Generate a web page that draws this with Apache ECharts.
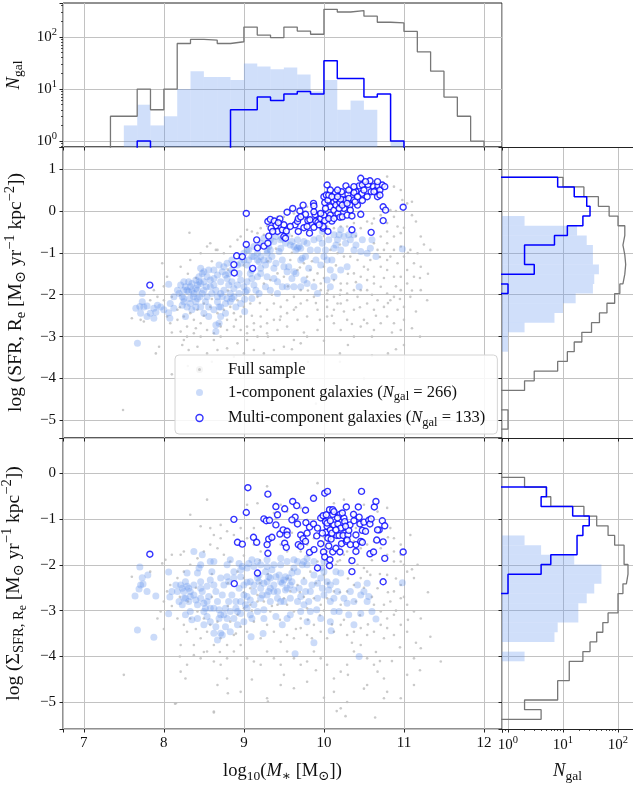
<!DOCTYPE html>
<html><head><meta charset="utf-8">
<script src="https://cdn.jsdelivr.net/npm/echarts@6/dist/echarts.min.js"></script>
<style>html,body{margin:0;padding:0;background:#fff;overflow:hidden}#c{width:633px;height:785px}</style>
</head><body><div id="c"></div>
<script>
// ---------------- data ----------------
const massTicks = [7, 8, 9, 10, 11, 12];
const sfrTicks = [-5, -4, -3, -2, -1, 0, 1];
const sigTicks = [-5, -4, -3, -2, -1, 0];
const countTicks = [1, 10, 100];

// top histogram (stellar mass), bin edges and counts
const massEdges = [7.333,7.5,7.667,7.833,8,8.167,8.333,8.5,8.667,8.833,9,9.167,9.333,9.5,9.667,9.833,10,10.167,10.333,10.5,10.667,10.833,11,11.167,11.333,11.5,11.667,11.833,12];
const fullMassHist  = [3,3,10,4,10,75,90,87,75,81,155,109,97,155,130,113,340,302,322,251,192,186,128,52,22,7,3,1];
const oneMassHist   = [0,2,5,2,3,10,22,17,17,15,31,27,24,26,19,9,15,4,6,4,0,1,0,0,0,0,0,0];
const multiMassHist = [0,0,1,0,0,0,0,0,0,4,4,7,6,8,9,8,35,16,16,7,8,1,0,0,0,0,0,0];

// right histogram, SFR (edges listed from top to bottom)
const sfrEdges = [0.804,0.573,0.341,0.110,-0.121,-0.353,-0.584,-0.815,-1.047,-1.278,-1.509,-1.741,-1.972,-2.203,-2.434,-2.666,-2.897,-3.128,-3.360,-3.591,-3.822,-4.054,-4.285,-4.516,-4.748,-4.979,-5.21];
const fullSfrHist  = [10,24,44,69,100,133,123,133,138,133,123,108,87,63,46,33,22,16,12,8,3,2,0,0,1,1];
const oneSfrHist   = [0,0,0,0,2,18,27,35,35,45,37,35,17,10,7,2,1,1,0,0,0,0,0,0,0,0];
const multiSfrHist = [8,16,27,31,23,12,7,2,2,3,0,1,0,0,0,0,0,0,0,0,0,0,0,0,0,0];

// right histogram, Sigma_SFR (edges listed from top to bottom)
const sigEdges = [-0.095,-0.306,-0.517,-0.728,-0.939,-1.150,-1.361,-1.572,-1.783,-1.994,-2.205,-2.416,-2.627,-2.838,-3.049,-3.260,-3.471,-3.682,-3.893,-4.104,-4.315,-4.526,-4.737,-4.948,-5.159,-5.370];
const fullSigHist  = [2,5,6,24,41,66,87,129,129,152,142,123,100,100,66,53,41,31,23,13,13,8,8,2,4];
const oneSigHist   = [0,0,0,0,0,0,2,4,16,50,50,37,27,19,19,8,7,0,2,0,0,0,0,0,0];
const multiSigHist = [0,5,4,15,30,23,18,18,6,4,1,1,0,0,0,0,0,0,0,0,0,0,0,0,0];

// scatter: [log M*, log SFR]
const multiSfr = [[7.825,-1.77],[9.03,-0.06],[8.91,-1.07],[8.98,-1.09],[8.875,-1.28],[8.88,-1.48],[9.11,-1.37],[9.03,-0.80],[9.16,-0.69],[9.17,-0.88],[9.25,-0.84],[9.30,-0.77],[9.31,-0.60],[9.30,-0.25],[9.33,-0.20],[9.38,-0.24],[9.45,-0.19],[9.40,-0.35],[9.34,-0.41],[9.42,-0.49],[9.48,-0.45],[9.50,-0.33],[9.53,-0.48],[9.50,-0.61],[9.52,-0.65],[9.54,-0.03],[9.61,0.06],[9.70,0.00],[9.74,0.14],[9.64,-0.33],[9.67,-0.25],[9.68,-0.18],[9.68,-0.49],[9.77,-0.08],[9.75,-0.40],[9.80,-0.23],[9.825,-0.21],[9.87,0.18],[9.875,0.12],[9.875,-0.39],[9.82,-0.53],[9.89,-0.09],[9.90,-0.24],[9.925,-0.27],[9.96,-0.18],[9.99,-0.41],[10.0,-0.10],[10.0,0.34],[10.01,0.20],[10.04,0.62],[10.03,0.38],[10.05,0.26],[10.01,-0.23],[9.99,-0.37],[10.05,-0.49],[10.08,0.10],[10.08,-0.10],[10.10,-0.24],[10.125,0.02],[10.125,0.22],[10.14,0.44],[10.15,0.28],[10.15,0.14],[10.175,-0.06],[10.20,0.20],[10.22,0.46],[10.20,-0.15],[10.23,-0.14],[10.25,0.26],[10.275,0.60],[10.27,0.26],[10.30,0.40],[10.31,0.30],[10.325,0.14],[10.33,0.02],[10.29,-0.10],[10.35,-0.12],[10.35,-0.45],[10.375,0.26],[10.40,0.46],[10.42,0.14],[10.44,0.60],[10.46,0.78],[10.475,0.42],[10.48,0.25],[10.46,-0.08],[10.48,0.62],[10.55,0.63],[10.575,0.72],[10.59,0.46],[10.62,0.58],[10.65,0.49],[10.675,0.60],[10.67,0.34],[10.70,0.50],[10.73,0.62],[10.76,0.58],[10.74,0.10],[10.77,0.02],[10.74,-0.23],[10.59,-0.51],[10.99,0.09],[10.21,0.28],[10.17,0.50],[10.375,0.44],[10.39,0.22],[10.25,0.06],[10.02,0.06],[10.06,0.38],[10.10,0.34],[10.19,0.06],[10.23,0.14],[10.29,0.18],[10.31,0.50],[10.42,0.34],[10.50,0.50],[10.54,0.34],[10.625,0.46],[10.70,0.38],[9.96,-0.06],[9.94,-0.33],[10.06,-0.18],[10.125,-0.18],[9.79,-0.37],[9.58,-0.37],[9.43,-0.28],[9.36,-0.49],[9.71,-0.14],[9.875,-0.02],[10.08,0.50],[10.17,0.34],[10.375,0.58],[10.52,0.70],[10.67,0.70]];

const oneSfr = [[7.65,-2.32],[7.70,-2.28],[7.73,-2.17],[7.73,-1.97],[7.79,-2.27],[7.67,-3.16],[7.875,-2.56],[7.90,-2.42],[8.06,-1.75],[8.06,-2.43],[8.075,-2.56],[8.23,-2.25],[8.21,-1.77],[8.27,-2.52],[8.25,-1.89],[8.29,-1.89],[8.31,-1.93],[8.33,-1.81],[8.35,-1.89],[8.375,-1.97],[8.40,-1.85],[8.42,-1.77],[8.44,-1.69],[8.46,-1.37],[8.48,-1.49],[8.50,-1.89],[8.52,-2.17],[8.54,-2.05],[8.56,-2.29],[8.29,-2.29],[8.35,-2.36],[8.40,-2.29],[8.42,-2.09],[8.45,-2.05],[8.48,-1.97],[8.53,-1.81],[8.58,-1.65],[8.60,-1.97],[8.625,-1.77],[8.65,-1.89],[8.67,-2.17],[8.69,-2.29],[8.65,-2.72],[8.69,-2.68],[8.65,-2.88],[8.71,-2.52],[8.77,-2.44],[8.73,-2.05],[8.75,-1.89],[8.71,-1.69],[8.73,-1.45],[8.79,-1.61],[8.81,-1.77],[8.85,-1.69],[8.83,-1.97],[8.875,-1.85],[8.92,-1.77],[8.94,-1.49],[8.96,-1.65],[9.0,-1.81],[9.02,-1.93],[9.01,-2.11],[9.01,-2.40],[9.04,-1.69],[9.08,-1.49],[9.10,-1.61],[9.125,-1.77],[9.15,-1.89],[9.04,-1.29],[9.06,-1.17],[9.125,-1.09],[9.17,-1.01],[9.19,-1.21],[9.21,-1.37],[9.25,-1.17],[9.27,-1.29],[9.29,-1.01],[9.31,-1.17],[9.33,-0.93],[9.35,-1.09],[9.375,-1.37],[9.375,-1.61],[9.40,-1.25],[9.44,-0.97],[9.46,-0.89],[9.48,-1.17],[9.50,-1.33],[9.48,-1.81],[9.54,-1.45],[9.56,-1.33],[9.60,-1.61],[9.625,-1.81],[9.65,-0.93],[9.67,-0.89],[9.69,-0.85],[9.71,-1.17],[9.73,-1.13],[9.77,-1.09],[9.79,-1.73],[9.81,-1.37],[9.83,-0.93],[9.875,-1.81],[9.90,-1.17],[9.92,-0.93],[9.96,-1.29],[10.0,-1.09],[10.02,-0.93],[10.04,-1.17],[10.08,-1.41],[10.10,-1.17],[10.125,-0.89],[10.15,-0.81],[10.08,-1.81],[10.17,-0.69],[10.21,-0.45],[10.27,-0.77],[10.29,-1.33],[10.375,-0.93],[10.44,-1.81],[10.46,-0.97],[10.48,-0.69],[10.54,-1.01],[10.58,-0.89],[10.60,-0.69],[10.65,-1.09],[10.98,-0.91],[10.31,-0.57],[10.375,-0.57],[9.98,-0.49],[10.21,-0.93],[9.52,-0.77],[9.58,-0.81],[9.625,-0.85],[9.71,-0.89],[9.75,-0.73],[9.46,-0.69],[9.375,-0.73],[9.31,-0.85],[9.29,-0.93],[9.21,-1.09],[9.17,-1.17],[9.10,-1.09],[9.06,-0.93],[9.0,-1.17],[8.96,-1.25],[8.92,-1.29],[8.85,-1.41],[8.81,-1.49],[8.77,-1.53],[8.67,-1.53],[8.625,-1.61],[8.58,-1.81],[8.54,-1.57],[8.50,-1.69],[8.46,-1.73],[8.42,-1.89],[8.37,-2.05],[8.325,-2.09],[8.25,-2.17],[8.27,-1.81],[8.31,-1.69],[8.35,-1.73],[8.40,-1.65],[8.44,-1.57],[8.50,-1.45],[8.56,-1.41],[8.625,-1.41],[8.69,-1.29],[8.75,-1.33],[8.79,-1.25],[8.85,-1.17],[8.96,-1.09],[9.0,-1.01],[9.04,-0.93],[9.125,-0.85],[9.21,-0.77],[9.25,-0.65],[9.33,-0.69],[9.40,-0.61],[9.48,-0.65],[9.54,-0.57],[9.60,-0.73],[9.67,-0.69],[9.79,-0.77],[9.875,-0.69],[9.94,-0.65],[9.98,-0.77],[10.06,-0.69],[10.125,-0.57],[10.19,-0.57],[10.25,-0.61],[10.33,-0.69],[10.40,-0.81],[9.71,-1.81],[9.75,-1.65],[9.65,-1.49],[9.54,-1.81],[9.42,-1.69],[9.29,-1.57],[9.21,-1.49],[9.17,-1.57],[9.10,-1.41],[9.04,-1.89],[8.94,-1.97],[8.875,-2.05],[8.83,-2.17],[8.77,-2.21],[8.71,-2.29],[8.625,-2.36],[8.56,-2.52],[8.50,-2.44],[8.46,-2.29],[8.40,-2.17],[8.33,-2.21],[8.25,-2.09],[8.23,-2.05],[8.19,-1.97],[8.25,-1.69],[8.17,-1.89],[8.125,-2.05],[8.08,-2.21],[8.125,-2.32],[8.0,-2.36],[7.96,-2.29],[7.92,-2.25],[7.875,-2.32],[7.83,-2.44],[7.79,-2.52],[7.75,-2.29],[7.71,-2.44],[8.67,-2.05],[8.71,-1.97],[8.79,-2.09],[8.85,-2.09],[8.90,-2.29],[8.96,-2.21],[9.10,-2.09],[9.19,-1.97],[9.27,-1.81],[9.33,-1.89],[9.42,-1.97],[9.625,-1.45],[9.92,-1.97],[10.04,-1.65],[10.125,-1.57],[10.21,-1.41]];

const fullSfr = [[8.32,-0.52],[8.54,-0.85],[8.65,-0.93],[9.04,-0.45],[9.10,-0.49],[9.21,-0.41],[9.29,-0.36],[9.42,-0.14],[9.5,-0.14],[9.625,-0.06],[9.71,0.06],[9.79,0.10],[9.875,0.06],[10.125,0.34],[10.21,0.42],[10.375,0.58],[10.54,0.74],[10.625,0.70],[10.79,0.82],[10.875,0.58],[10.96,0.50],[10.98,0.26],[11.04,0.18],[11.10,0.22],[11.15,-0.25],[11.10,-0.10],[10.875,-0.14],[10.83,0.02],[10.92,-0.37],[10.96,-0.53],[10.79,-0.49],[10.71,-0.61],[10.625,-0.77],[10.75,-0.93],[10.83,-1.09],[10.92,-1.25],[11.0,-1.09],[11.08,-0.93],[11.17,-1.01],[11.33,-0.93],[11.21,-1.33],[11.125,-1.57],[11.04,-1.73],[10.96,-1.89],[10.875,-2.05],[10.79,-1.97],[10.71,-1.81],[10.625,-1.73],[10.54,-1.65],[10.46,-1.57],[10.375,-1.49],[10.29,-1.73],[10.21,-1.89],[10.125,-2.05],[10.04,-1.97],[9.96,-1.89],[9.875,-1.65],[9.79,-1.57],[9.71,-1.89],[9.625,-2.05],[9.54,-2.13],[9.46,-2.29],[9.375,-2.21],[9.29,-2.36],[9.21,-2.52],[9.125,-2.68],[9.04,-2.76],[8.96,-2.52],[8.875,-2.44],[8.79,-2.60],[8.71,-2.76],[8.625,-2.92],[8.54,-2.84],[8.46,-2.68],[8.375,-2.60],[8.29,-2.76],[8.21,-2.88],[8.25,-3.08],[8.23,-3.20],[8.31,-3.32],[8.42,-3.24],[8.54,-3.40],[8.67,-3.32],[8.79,-3.28],[8.92,-3.16],[9.04,-3.08],[9.17,-3.00],[9.29,-2.92],[9.42,-2.84],[9.54,-2.76],[9.67,-2.60],[9.79,-2.52],[9.92,-2.36],[10.04,-2.29],[10.17,-2.21],[10.29,-2.13],[10.42,-2.05],[10.54,-2.21],[10.67,-2.13],[10.75,-2.29],[10.83,-2.13],[10.92,-2.36],[11.0,-2.29],[11.08,-2.05],[11.21,-1.89],[11.29,-2.13],[10.125,-2.68],[10.21,-2.84],[10.29,-2.60],[10.375,-3.00],[10.46,-2.76],[10.54,-2.68],[10.625,-2.84],[10.71,-2.68],[10.79,-2.52],[10.875,-2.68],[10.96,-2.84],[9.92,-2.84],[9.79,-3.00],[9.71,-3.16],[9.625,-3.08],[9.5,-3.24],[9.375,-3.32],[9.25,-3.40],[9.125,-3.32],[9.0,-3.40],[8.875,-3.48],[7.90,-3.40],[7.94,-3.24],[7.60,-2.56],[7.75,-2.64],[7.98,-1.25],[7.875,-1.89],[8.04,-1.57],[8.10,-2.05],[8.17,-2.36],[8.21,-1.33],[8.33,-1.17],[8.46,-1.01],[8.58,-0.77],[8.67,-0.93],[8.75,-1.01],[8.83,-0.85],[8.92,-0.69],[8.96,-0.61],[9.17,-0.53],[9.25,-0.57],[9.33,-0.53],[9.375,-0.37],[9.46,-0.45],[9.54,-0.33],[9.67,-0.25],[9.75,-0.18],[9.875,-0.21],[9.96,-0.25],[10.04,-0.37],[10.125,-0.41],[10.21,-0.37],[10.29,-0.37],[10.375,-0.29],[10.46,-0.41],[10.54,-0.25],[10.625,-0.18],[10.71,-0.10],[10.79,-0.29],[10.875,-0.61],[10.79,-0.77],[10.67,-0.93],[10.58,-1.17],[10.5,-1.33],[10.42,-1.17],[10.33,-1.09],[10.25,-1.09],[10.17,-1.01],[10.08,-0.93],[10.0,-1.33],[9.92,-1.49],[9.83,-1.41],[9.75,-1.25],[9.67,-1.41],[9.58,-1.17],[9.5,-1.57],[9.42,-1.49],[9.33,-1.65],[9.25,-1.73],[9.17,-2.05],[9.08,-2.21],[9.0,-2.29],[8.92,-2.13],[8.83,-2.29],[8.75,-2.36],[8.67,-2.44],[8.58,-2.29],[8.5,-2.21],[8.42,-2.36],[8.33,-2.44],[8.25,-2.52],[8.17,-2.60],[8.08,-2.68],[8.04,-2.52],[8.0,-2.13],[7.92,-2.05],[7.83,-2.13],[7.71,-2.60],[10.125,-1.65],[10.21,-1.73],[9.96,-1.73],[10.04,-2.52],[10.375,-2.36],[10.625,-2.36],[10.71,-1.33],[10.875,-1.57],[10.96,-1.57],[11.04,-1.41],[11.125,-1.25],[11.21,-0.61],[10.96,-0.85],[10.875,-0.93],[10.79,-1.17],[10.79,-1.41],[10.625,-1.57],[10.54,-1.89],[10.46,-1.89],[10.375,-1.89],[10.29,-1.97],[10.21,-2.21],[10.125,-2.36],[10.04,-2.13],[9.875,-2.05],[9.79,-2.13],[9.71,-2.21],[9.625,-2.36],[9.54,-2.44],[9.46,-2.52],[9.375,-2.60],[9.29,-2.68],[9.21,-2.76],[9.125,-2.84],[9.04,-2.92],[8.96,-2.84],[8.875,-2.76],[8.79,-2.84],[8.71,-3.00],[8.625,-3.08],[8.46,-3.00],[8.375,-2.92],[8.29,-3.00],[7.49,-4.75],[8.10,-3.90],[8.30,-3.70],[8.60,-3.60],[9.00,-3.65],[9.40,-3.60],[9.80,-3.60],[10.20,-3.60],[10.60,-3.45],[11.00,-3.20],[11.20,-3.00],[10.50,-4.00],[9.90,-4.60],[8.90,-4.30],
  [9.6,-1.0],[9.7,-1.35],[9.8,-1.9],[9.9,-2.2],[10.0,-1.6],[10.05,-1.9],[10.1,-2.5],[10.15,-1.3],[10.2,-2.0],[10.25,-2.4],[10.3,-1.5],[10.35,-2.7],[10.4,-1.7],[10.45,-2.3],[10.5,-2.6],[10.55,-1.4],[10.6,-2.0],[10.65,-2.5],[10.7,-1.1],[10.75,-1.6],[10.8,-2.2],[10.85,-2.9],[10.9,-1.8],[10.95,-2.1],[11.0,-2.6],[11.05,-1.0],[11.1,-1.9],[11.15,-2.4],[11.2,-1.6],[11.25,-0.8],[9.3,-1.2],[9.35,-2.0],[9.45,-2.6],[9.55,-1.8],[9.65,-2.3],[9.75,-2.9],[9.85,-1.2],[9.95,-2.6],[10.0,-3.1],[10.3,-3.2],[10.6,-3.0],[10.9,-3.3],[9.2,-2.2],[9.1,-2.5],[9.0,-2.0],[8.9,-2.6],[8.8,-1.9],[8.7,-2.7],[8.6,-2.1],[8.5,-2.5],[8.4,-2.8],[8.3,-1.5],[8.2,-2.3],[8.1,-2.9],[8.0,-1.8],[10.1,-0.2],[10.3,0.1],[10.5,0.3],[10.7,0.4],[10.9,0.0],[11.0,-0.4],[10.6,-0.3],[10.4,-0.6],[10.2,-0.8],[10.0,-0.6],[9.8,-0.5],[9.6,-0.6],[9.4,-0.9],[9.2,-0.9],[9.0,-1.3],[8.8,-1.4],[8.6,-1.2],[8.4,-1.6],[8.2,-2.0],[11.1,-2.8],[11.3,-1.5],[10.8,-3.4],[10.2,-3.4],[9.6,-3.3],[9.3,-3.0]];

// scatter: [log M*, log Sigma_SFR]
const multiSig = [[7.825,-1.77],[8.875,-1.01],[8.88,-2.41],[8.92,-1.51],[8.98,-1.55],[9.03,-0.86],[9.05,-0.32],[9.12,-1.40],[9.16,-1.51],[9.17,-2.18],[9.25,-1.00],[9.28,-1.04],[9.30,-0.46],[9.30,-1.75],[9.31,-1.44],[9.32,-1.03],[9.35,-1.40],[9.40,-0.73],[9.40,-1.13],[9.42,-0.91],[9.45,-1.33],[9.49,-1.24],[9.51,-0.78],[9.51,-1.53],[9.53,-1.62],[9.54,-1.27],[9.61,-0.62],[9.64,-0.96],[9.66,-0.71],[9.67,-1.11],[9.68,-1.56],[9.71,-1.35],[9.71,-1.60],[9.74,-1.43],[9.77,-0.81],[9.775,-1.08],[9.82,-1.18],[9.82,-1.73],[9.87,-1.11],[9.87,-0.55],[9.875,-1.67],[9.92,-2.07],[9.91,-1.37],[9.96,-1.54],[9.96,-0.98],[9.99,-0.93],[9.995,-1.72],[10.01,-1.83],[10.01,-0.44],[10.02,-1.06],[10.025,-1.29],[10.03,-0.91],[10.04,-1.16],[10.045,-0.40],[10.05,-1.42],[10.06,-1.59],[10.07,-0.80],[10.07,-2.02],[10.075,-1.89],[10.08,-1.24],[10.09,-1.44],[10.11,-0.90],[10.11,-0.80],[10.11,-1.72],[10.125,-1.13],[10.15,-1.64],[10.16,-1.36],[10.175,-1.11],[10.19,-1.36],[10.20,-0.90],[10.20,-1.72],[10.22,-1.54],[10.23,-1.20],[10.24,-1.36],[10.25,-0.98],[10.26,-1.06],[10.28,-0.74],[10.28,-1.49],[10.30,-1.35],[10.31,-1.25],[10.325,-1.13],[10.35,-2.15],[10.35,-1.91],[10.37,-0.90],[10.375,-1.04],[10.40,-1.56],[10.40,-1.71],[10.43,-0.74],[10.44,-0.96],[10.45,-1.11],[10.46,-1.49],[10.47,-0.40],[10.48,-1.25],[10.48,-1.51],[10.50,-1.07],[10.56,-1.03],[10.575,-1.11],[10.575,-1.76],[10.59,-1.00],[10.62,-1.72],[10.63,-0.74],[10.65,-0.62],[10.66,-1.46],[10.69,-1.24],[10.73,-1.04],[10.74,-1.50],[10.74,-2.37],[10.76,-1.15],[10.76,-1.86],[10.99,-1.72],[10.04,-1.09],[10.08,-1.04],[10.125,-0.84],[10.10,-1.31],[10.21,-1.20],[10.29,-1.46],[10.40,-1.35],[10.17,-0.98],[10.23,-0.87],[9.60,-1.02],[9.77,-1.49],[9.54,-1.35],[9.92,-1.20],[9.98,-1.31],[10.15,-1.24],[10.27,-1.16],[10.33,-1.56],[10.52,-1.27],[10.67,-1.24],[9.29,-1.56],[9.79,-1.31]];

const oneSig = [[7.64,-2.68],[7.67,-3.42],[7.70,-2.05],[7.69,-2.53],[7.73,-2.28],[7.74,-2.42],[7.80,-2.22],[7.875,-3.58],[7.90,-2.68],[8.06,-2.16],[8.06,-3.07],[8.075,-2.70],[8.21,-2.44],[8.23,-2.87],[8.25,-2.58],[8.27,-2.37],[8.29,-2.18],[8.31,-2.51],[8.33,-2.69],[8.35,-3.20],[8.375,-1.71],[8.40,-2.77],[8.42,-2.18],[8.44,-2.07],[8.46,-2.37],[8.48,-1.78],[8.48,-2.58],[8.50,-2.84],[8.52,-2.95],[8.54,-3.13],[8.56,-2.69],[8.58,-2.33],[8.60,-2.15],[8.625,-1.93],[8.65,-2.58],[8.67,-2.80],[8.69,-2.98],[8.625,-3.49],[8.67,-3.64],[8.71,-3.49],[8.77,-3.35],[8.77,-2.95],[8.75,-2.44],[8.81,-2.37],[8.83,-1.89],[8.85,-2.66],[8.875,-2.15],[8.90,-2.80],[8.92,-3.02],[8.94,-2.51],[8.96,-2.26],[8.98,-2.04],[9.0,-2.66],[9.02,-2.87],[9.04,-2.38],[9.06,-1.97],[9.08,-2.77],[9.10,-3.17],[9.09,-3.57],[9.125,-2.44],[9.17,-1.93],[9.19,-2.22],[9.21,-2.51],[9.23,-2.66],[9.25,-2.98],[9.24,-3.50],[9.27,-2.15],[9.29,-2.37],[9.31,-2.58],[9.33,-2.29],[9.35,-2.11],[9.375,-2.44],[9.40,-3.13],[9.42,-2.58],[9.44,-2.22],[9.46,-2.80],[9.48,-3.31],[9.5,-2.33],[9.52,-2.55],[9.54,-3.17],[9.56,-2.29],[9.58,-2.44],[9.60,-2.18],[9.625,-2.55],[9.64,-3.94],[9.67,-2.15],[9.71,-2.69],[9.73,-2.00],[9.75,-2.37],[9.79,-3.24],[9.81,-2.80],[9.83,-2.58],[9.875,-3.70],[9.875,-2.22],[9.91,-2.98],[9.96,-2.29],[10.0,-2.15],[10.04,-2.37],[10.06,-2.55],[10.08,-3.24],[10.09,-3.44],[10.125,-2.73],[10.15,-2.37],[10.21,-2.18],[10.29,-2.84],[10.375,-2.80],[10.44,-4.00],[10.46,-3.06],[10.5,-2.58],[10.54,-2.40],[10.56,-2.69],[10.60,-3.02],[10.65,-3.18],[10.98,-2.39],[9.54,-1.93],[9.67,-1.93],[9.75,-1.93],[9.46,-2.00],[9.375,-2.00],[9.29,-2.04],[9.21,-2.00],[9.125,-2.04],[9.04,-2.07],[8.96,-2.11],[8.875,-2.29],[8.79,-2.26],[8.71,-2.29],[8.625,-2.44],[8.54,-2.47],[8.46,-2.51],[8.375,-2.44],[8.29,-2.47],[8.23,-2.51],[8.25,-2.73],[8.31,-2.80],[8.42,-2.87],[8.50,-3.02],[8.58,-2.95],[8.69,-3.17],[8.75,-3.09],[8.83,-3.02],[8.90,-2.95],[8.96,-2.80],[9.04,-2.69],[9.125,-2.58],[9.19,-2.37],[9.25,-2.40],[9.31,-2.26],[9.40,-2.26],[9.48,-2.40],[9.54,-2.51],[9.60,-2.37],[9.69,-2.51],[9.77,-2.58],[9.85,-2.44],[9.92,-2.40],[9.98,-2.51],[10.08,-2.44],[10.17,-2.58],[10.25,-2.73],[10.33,-2.58],[10.42,-2.44],[10.15,-2.15],[9.96,-2.07],[9.79,-2.00],[9.625,-2.07],[9.52,-2.26],[9.46,-2.37],[9.375,-2.58],[9.29,-2.66],[9.21,-2.73],[9.125,-2.87],[9.04,-2.95],[8.96,-3.06],[8.875,-3.17],[8.79,-3.17],[8.71,-3.09],[8.625,-2.95],[8.54,-2.80],[8.46,-2.73],[8.375,-2.66],[8.33,-2.58],[8.27,-2.73],[8.19,-2.80],[8.17,-2.58],[8.15,-2.44],[8.10,-2.58],[7.79,-2.58],[7.71,-2.44],[8.73,-2.66],[8.81,-2.80],[9.0,-2.44],[9.08,-2.37],[9.17,-2.29],[9.33,-2.51],[9.42,-2.73],[9.5,-2.80],[9.58,-2.73],[9.67,-2.80],[9.75,-2.87],[9.83,-3.02],[9.92,-2.73],[10.0,-2.66],[10.08,-2.80],[10.19,-3.02],[10.31,-3.09],[10.46,-2.66],[10.54,-2.80],[10.375,-3.31],[10.125,-3.02],[9.96,-3.17],[9.71,-3.02],[9.58,-3.09],[9.33,-2.80],[9.25,-3.17],[9.17,-3.02],[9.08,-3.09],[9.0,-3.24],[8.92,-3.31],[8.83,-3.46],[8.73,-3.53],[8.65,-3.35],[8.58,-3.24],[8.50,-3.31],[8.42,-3.17],[8.33,-3.02],[8.27,-3.09],[8.46,-2.00],[8.58,-1.93],[8.79,-2.00],[8.94,-1.97],[9.10,-1.89],[9.29,-1.89],[9.46,-1.86],[9.625,-1.89],[9.79,-1.86],[9.875,-1.93],[10.0,-1.93]];

const fullSig = [[8.33,-0.91],[8.54,-0.58],[8.71,-1.13],[8.46,-1.16],[8.25,-1.71],[8.10,-1.78],[8.21,-1.78],[8.02,-1.89],[7.98,-1.97],[7.83,-2.15],[7.60,-2.26],[7.50,-4.40],[9.04,-0.69],[9.17,-0.66],[9.29,-0.29],[9.375,-0.87],[9.46,-0.69],[9.54,-0.84],[9.71,-0.76],[9.79,-1.02],[9.875,-0.55],[9.92,-0.22],[10.125,-0.66],[10.25,-0.58],[10.375,-0.84],[10.5,-0.69],[10.58,-0.95],[10.67,-0.84],[10.79,-0.76],[10.83,-1.20],[10.875,-1.42],[10.96,-1.56],[11.08,-1.35],[10.96,-1.93],[11.04,-2.15],[11.125,-2.29],[11.17,-2.00],[10.875,-1.93],[10.79,-2.22],[10.875,-2.58],[10.96,-2.73],[11.04,-2.87],[11.125,-3.02],[11.21,-3.17],[11.33,-3.57],[11.46,-4.11],[11.21,-3.82],[11.125,-4.04],[11.04,-4.40],[11.125,-4.62],[10.96,-4.91],[10.79,-4.77],[10.75,-4.48],[10.67,-4.33],[10.625,-4.18],[10.54,-4.04],[10.46,-3.75],[10.375,-3.89],[10.29,-4.18],[10.21,-4.33],[10.125,-4.48],[10.04,-4.18],[9.96,-4.04],[9.875,-3.89],[9.79,-4.11],[9.71,-4.18],[9.625,-4.04],[9.54,-3.89],[9.46,-4.18],[9.375,-4.04],[9.29,-3.89],[9.21,-4.18],[9.125,-4.11],[9.04,-4.04],[8.96,-3.75],[8.875,-3.89],[8.79,-4.04],[8.71,-4.18],[8.625,-4.11],[8.54,-3.89],[8.46,-4.04],[8.375,-3.97],[8.29,-4.18],[8.27,-4.48],[8.21,-4.33],[8.67,-4.62],[8.79,-4.48],[8.96,-4.77],[9.29,-4.91],[9.46,-4.62],[9.625,-4.69],[9.79,-4.55],[10.125,-4.77],[10.29,-4.99],[10.54,-4.62],[10.75,-4.91],[10.21,-5.13],[8.625,-5.20],[8.15,-5.02],[8.96,-3.35],[9.04,-3.46],[9.125,-3.24],[9.21,-3.60],[9.29,-3.31],[9.375,-3.46],[9.46,-3.68],[9.54,-3.53],[9.625,-3.60],[9.71,-3.38],[9.79,-3.53],[9.875,-3.31],[9.96,-3.46],[10.04,-3.60],[10.125,-3.46],[10.21,-3.31],[10.29,-3.53],[10.375,-3.46],[10.46,-3.38],[10.54,-3.53],[10.625,-3.46],[10.71,-3.31],[10.79,-3.38],[10.875,-3.53],[10.96,-3.31],[11.04,-3.46],[10.79,-3.17],[10.875,-3.09],[10.71,-3.02],[10.625,-2.87],[10.75,-2.87],[10.83,-2.80],[10.96,-2.44],[10.67,-2.51],[10.58,-2.22],[10.5,-2.07],[10.42,-2.00],[10.33,-1.86],[10.25,-1.78],[10.17,-1.93],[10.08,-2.07],[10.0,-2.22],[9.92,-1.93],[9.83,-2.15],[9.75,-2.29],[9.67,-2.44],[9.58,-2.58],[9.5,-2.73],[9.42,-2.87],[9.33,-3.02],[9.25,-2.80],[9.17,-2.66],[9.08,-2.51],[9.0,-2.29],[8.92,-2.15],[8.83,-1.93],[8.75,-1.78],[8.67,-1.64],[8.58,-1.56],[8.50,-1.71],[8.42,-1.86],[8.33,-2.00],[8.25,-2.15],[8.17,-2.29],[8.08,-2.44],[8.04,-2.58],[8.0,-2.80],[7.96,-3.02],[7.92,-3.17],[8.29,-3.46],[8.375,-3.75],[8.46,-3.60],[8.54,-3.46],[8.625,-3.75],[8.71,-3.60],[8.79,-3.75],[8.875,-3.53],[8.21,-3.75],[8.17,-3.17],[8.25,-3.31],[8.33,-3.17],[8.42,-3.02],[8.50,-3.17],[8.58,-3.31],[8.67,-3.24],[8.83,-3.24],[8.92,-3.09],[9.0,-2.95],[9.08,-2.87],[9.17,-2.80],[9.71,-1.71],[9.79,-1.56],[9.875,-1.42],[9.96,-1.56],[10.04,-1.71],[10.21,-1.56],[10.29,-1.71],[10.375,-1.49],[10.46,-1.64],[10.54,-1.56],[10.625,-1.49],[10.71,-1.64],[10.79,-1.78],[10.875,-1.71],[10.96,-1.78],[9.54,-1.71],[9.46,-1.56],[9.375,-1.42],[9.29,-1.56],[9.21,-1.71],[9.125,-1.56],[9.04,-1.42],[8.96,-1.56],[8.875,-1.35],[8.79,-1.27],[8.71,-1.42],[8.625,-1.35],[8.58,-1.20],[8.96,-1.20],[9.125,-1.20],[10.21,-2.87],[10.125,-2.58],[10.04,-2.73],[9.96,-2.87],[9.875,-2.73],[9.79,-2.95],[9.71,-3.17],[9.625,-3.02],[9.54,-2.87],[10.29,-2.58],[10.375,-2.44],[10.46,-2.29],[10.54,-2.15],[8.14,-5.03],[8.625,-5.22],[9.30,-4.98],[10.16,-5.19],[10.27,-5.30],[10.64,-5.33],
  [9.6,-2.1],[9.7,-2.6],[9.8,-3.2],[9.9,-2.4],[10.0,-3.0],[10.05,-2.4],[10.1,-3.3],[10.15,-2.0],[10.2,-2.6],[10.25,-3.2],[10.3,-2.3],[10.35,-3.7],[10.4,-2.8],[10.45,-3.1],[10.5,-2.5],[10.55,-3.3],[10.6,-2.7],[10.65,-3.9],[10.7,-2.2],[10.75,-3.6],[10.8,-2.6],[10.85,-4.1],[10.9,-3.0],[10.95,-3.8],[11.0,-2.7],[11.05,-3.2],[11.1,-2.1],[11.15,-3.7],[9.3,-2.2],[9.35,-2.9],[9.45,-3.2],[9.55,-2.3],[9.65,-3.4],[9.75,-2.7],[9.85,-3.6],[9.95,-3.1],[9.2,-2.4],[9.1,-3.0],[9.0,-2.6],[8.9,-3.5],[8.8,-2.9],[8.7,-3.9],[8.6,-2.7],[8.5,-3.9],[8.4,-3.4],[8.3,-2.8],[8.2,-4.0],[8.1,-2.9],[8.0,-3.4],[9.4,-1.0],[9.6,-1.3],[9.8,-1.8],[10.0,-1.4],[10.2,-1.9],[10.4,-1.2],[10.6,-1.9],[10.8,-1.4],[11.0,-2.0],[9.2,-1.9],[9.0,-1.8],[8.8,-2.4],[8.6,-2.2],[8.4,-2.5],[8.2,-2.7],[9.5,-4.4],[9.9,-4.3],[10.3,-4.4],[10.7,-4.1],[9.1,-4.5],[8.8,-4.8],[10.0,-4.9],[10.5,-4.7],[11.2,-4.3],[11.3,-2.6],[10.9,-2.3]];

// ---------------- styling ----------------
const FONT = '"Liberation Serif","DejaVu Serif",serif';
const INK = '#111';
const GRIDC = '#c2c2c2';
const SPINE = '#222';
const BLUE = '#0000ff';
const GREYL = '#777777';
const FILL = 'rgba(100,149,237,0.3)';
const FLOOR = 0.1;   // value below the log axes minimum (zero counts)

function richSet(main, sub) {
  return {
    t: {fontFamily: FONT, fontSize: main, color: INK},
    i: {fontFamily: FONT, fontSize: main, color: INK, fontStyle: 'italic'},
    s: {fontFamily: FONT, fontSize: sub, color: INK, padding: [Math.round(main * 0.55), 0, 0, 0]},
    ss: {fontFamily: FONT, fontSize: sub * 0.8, color: INK, padding: [Math.round(main * 0.95), 0, 0, 0]},
    u: {fontFamily: FONT, fontSize: sub, color: INK, padding: [0, 0, Math.round(main * 0.6), 0]},
    b: {fontFamily: FONT, fontSize: main, color: INK},
    gap: {width: 20}
  };
}
const richTick = richSet(15, 10.5);
const richTitle = richSet(18.5, 13.5);
const richTitleY = richSet(19.5, 14.5);
const richLegend = richSet(16.5, 12.5);

function fmtNum(v) {
  if (Math.abs(v - Math.round(v)) > 1e-6) return '';
  v = Math.round(v);
  return v < 0 ? '\u2212' + (-v) : String(v);
}
function fmtPow(v) {
  const e = Math.log10(v);
  if (Math.abs(e - Math.round(e)) > 1e-6) return '';
  return '{b|10}{u|' + Math.round(e) + '}';
}
function onlyIn(list) { return v => list.some(t => Math.abs(t - v) < 1e-6); }
const spineLine = {show: true, onZero: false, lineStyle: {color: SPINE, width: 1}};

function linAxis(gi, min, max, ticks, showLabel, extra) {
  return Object.assign({
    type: 'value', gridIndex: gi, min: min, max: max, minInterval: 1, maxInterval: 1,
    axisLine: {show: false, onZero: false},
    axisTick: {show: true, length: 3.5, lineStyle: {color: SPINE, width: 1}},
    axisLabel: {show: showLabel, margin: 7, formatter: v => (onlyIn(ticks)(v) ? fmtNum(v) : ''),
                fontFamily: FONT, fontSize: 15, color: INK},
    splitLine: {show: true, lineStyle: {color: GRIDC, width: 1}}
  }, extra || {});
}
function logAxis(gi, min, max, showLabel, extra) {
  return Object.assign({
    type: 'log', logBase: 10, gridIndex: gi, min: min, max: max,
    axisLine: {show: false, onZero: false},
    axisTick: {show: true, length: 3.5, lineStyle: {color: SPINE, width: 1}},
    axisLabel: {show: showLabel, margin: 6, formatter: fmtPow, rich: richTick, fontFamily: FONT, fontSize: 15, color: INK},
    splitLine: {show: true, showMinLine: false, showMaxLine: false, lineStyle: {color: GRIDC, width: 1}}
  }, extra || {});
}
function minorLogValues(lo, hi) {
  const out = [];
  for (let d = -1; d <= 3; d++) for (let m = 2; m <= 9; m++) {
    const v = m * Math.pow(10, d);
    if (v > lo && v < hi) out.push(Math.log10(v));
  }
  return out;
}
function minorAxis(gi, lo, hi) {
  return {
    type: 'value', gridIndex: gi, min: Math.log10(lo), max: Math.log10(hi),
    axisLine: {show: false, onZero: false}, axisLabel: {show: false}, splitLine: {show: false},
    axisTick: {show: true, length: 2, lineStyle: {color: SPINE, width: 0.8}, customValues: minorLogValues(lo, hi)}
  };
}
function hiddenAxis(gi) {
  return {type: 'value', gridIndex: gi, min: 0, max: 1, show: false};
}
function bareAxis(gi, extra) {   // an axis that only shows its line and/or its name
  return Object.assign({type: 'value', gridIndex: gi, min: 0, max: 1, axisLine: {show: false, onZero: false},
    axisTick: {show: false}, axisLabel: {show: false}, splitLine: {show: false}}, extra || {});
}
function titled(name, gap, rich, size) {
  return {name: name, nameLocation: 'middle', nameGap: gap,
          nameTextStyle: {rich: rich || richTitle, fontFamily: FONT, fontSize: size || 18.5, color: INK}};
}

// step outline built from bin edges and counts
function stepLine(edges, counts, xi, yi, horiz, color, width) {
  const pts = [];
  const c = counts.map(v => (v > 0 ? v : FLOOR));
  const P = (e, n) => (horiz ? [n, e] : [e, n]);
  pts.push(P(edges[0], FLOOR));
  for (let k = 0; k < c.length; k++) { pts.push(P(edges[k], c[k])); pts.push(P(edges[k + 1], c[k])); }
  pts.push(P(edges[edges.length - 1], FLOOR));
  return {type: 'line', xAxisIndex: xi, yAxisIndex: yi, data: pts, symbol: 'none', showSymbol: false,
          silent: true, clip: true, z: 3, lineStyle: {color: color, width: width}, emphasis: {disabled: true},
          animation: false};
}
// filled bars built from bin edges and counts
function fillBars(edges, counts, xi, yi, horiz) {
  const data = [];
  for (let k = 0; k < counts.length; k++) if (counts[k] > 0) data.push([edges[k], edges[k + 1], counts[k]]);
  return {
    type: 'custom', xAxisIndex: xi, yAxisIndex: yi, data: data, silent: true, z: 1, animation: false,
    encode: horiz ? {x: 2, y: [0, 1]} : {x: [0, 1], y: 2},
    renderItem: function (params, api) {
      const a = api.value(0), b = api.value(1), n = api.value(2);
      let p, q;
      if (!horiz) { p = api.coord([a, n]); q = api.coord([b, FLOOR]); }
      else { p = api.coord([FLOOR, a]); q = api.coord([n, b]); }
      const cs = params.coordSys;
      const shape = echarts.graphic.clipRectByRect(
        {x: Math.min(p[0], q[0]), y: Math.min(p[1], q[1]), width: Math.abs(q[0] - p[0]), height: Math.abs(q[1] - p[1])},
        {x: cs.x, y: cs.y, width: cs.width, height: cs.height});
      return shape && {type: 'rect', shape: shape, style: {fill: FILL}};
    }
  };
}
function scatter(name, data, xi, yi, kind) {
  const base = {type: 'scatter', name: name, data: data, xAxisIndex: xi, yAxisIndex: yi, silent: true,
                animation: false, emphasis: {disabled: true}, clip: true};
  if (kind === 'full') return Object.assign(base, {symbolSize: 2.6, z: 2, itemStyle: {color: '#bdbdbd'}});
  if (kind === 'one') return Object.assign(base, {symbolSize: 7, z: 3, itemStyle: {color: 'rgba(100,149,237,0.42)'}});
  return Object.assign(base, {symbolSize: 6, z: 4, itemStyle: {color: '#ffffff', borderColor: BLUE, borderWidth: 1.4}});
}

const G = (l, t, w, h, show) => ({left: l, top: t, width: w, height: h, show: show, borderColor: SPINE,
                                   borderWidth: 1, backgroundColor: 'transparent', containLabel: false,
                                   outerBoundsMode: 'none'});
const RW = 150;                   // side panels run past the right edge of the page
const NMIN = 0.778;
const NMAX = NMIN * Math.pow(10, RW / 55);   // 55 px per decade, as in the reference
const HMIN = 0.77, HMAX = 450;
const XMIN = 6.74, XMAX = 12.225;
const S1MIN = -5.42, S1MAX = 1.527;
const S2MIN = -5.58, S2MAX = 0.764;

const option = {
  backgroundColor: '#ffffff',
  animation: false,
  grid: [
    G(63, 3, 439, 144, true),     // 0 top histogram
    G(63, 147, 439, 291, true),   // 1 SFR scatter
    G(63, 438, 439, 291, true),   // 2 Sigma scatter
    G(502, 147, RW, 291, false),  // 3 SFR side histogram (open on the right)
    G(502, 438, RW, 291, false),  // 4 Sigma side histogram (open on the right)
    G(63, 3, 439, 144, false),    // 5 minor ticks of top histogram
    G(502, 147, RW, 291, false),  // 6 top spine of side hist 1
    G(502, 438, RW, 291, false),  // 7 minor ticks side hist 2
    G(502, 438, 131, 291, false)  // 8 title of side hist 2 (visible width)
  ],
  xAxis: [
    linAxis(0, XMIN, XMAX, massTicks, false),
    linAxis(1, XMIN, XMAX, massTicks, false),
    linAxis(2, XMIN, XMAX, massTicks, true, titled('{t|log}{s|10}{t|(}{i|M}{s|∗}{t| [M}{s|⊙}{t|])}', 30)),
    logAxis(3, NMIN, NMAX, false, {axisLine: spineLine}),
    logAxis(4, NMIN, NMAX, true, {axisLine: spineLine}),
    hiddenAxis(5),
    bareAxis(6, {position: 'top', axisLine: spineLine}),
    minorAxis(7, NMIN, NMAX),
    bareAxis(8, titled('{i|N}{s|gal}', 30))
  ],
  yAxis: [
    logAxis(0, HMIN, HMAX, true, titled('{i|N}{s|gal}', 30)),
    linAxis(1, S1MIN, S1MAX, sfrTicks, true, titled('{t|log (SFR, R}{s|e}{t| [M}{s|⊙}{t| yr}{u|−1}{t| kpc}{u|−2}{t|])}', 24, richTitleY, 19.5)),
    linAxis(2, S2MIN, S2MAX, sigTicks, true, titled('{t|log (Σ}{s|SFR, R}{ss|e}{t| [M}{s|⊙}{t| yr}{u|−1}{t| kpc}{u|−2}{t|])}', 24, richTitleY, 19.5)),
    linAxis(3, S1MIN, S1MAX, sfrTicks, false),
    linAxis(4, S2MIN, S2MAX, sigTicks, false),
    minorAxis(5, HMIN, HMAX),
    hiddenAxis(6),
    hiddenAxis(7),
    hiddenAxis(8)
  ],
  legend: {
    orient: 'vertical', left: 175, top: 355, padding: [6, 12, 5, 19], itemGap: 6,
    itemWidth: 7, itemHeight: 7, selectedMode: false,
    backgroundColor: 'rgba(255,255,255,0.85)', borderColor: '#d4d4d4', borderWidth: 1, borderRadius: 4,
    textStyle: {fontFamily: FONT, fontSize: 16.5, color: INK, rich: richLegend},
    formatter: function (name) {
      if (name === 'Full sample') return '{gap|}{t|Full sample}';
      if (name === '1-component galaxies') return '{gap|}{t|1-component galaxies (}{i|N}{s|gal}{t| = 266)}';
      return '{gap|}{t|Multi-component galaxies (}{i|N}{s|gal}{t| = 133)}';
    },
    data: [
      {name: 'Full sample', icon: 'circle', itemStyle: {color: '#bdbdbd', borderColor: '#ffffff', borderWidth: 4}},
      {name: '1-component galaxies', icon: 'circle', itemStyle: {color: 'rgba(100,149,237,0.42)', borderWidth: 0}},
      {name: 'Multi-component galaxies', icon: 'circle', itemStyle: {color: '#ffffff', borderColor: BLUE, borderWidth: 1.4}}
    ]
  },
  series: [
    // top histogram
    fillBars(massEdges, oneMassHist, 0, 0, false),
    stepLine(massEdges, fullMassHist, 0, 0, false, GREYL, 1.3),
    stepLine(massEdges, multiMassHist, 0, 0, false, BLUE, 1.5),
    // scatter panels
    scatter('Full sample', fullSfr, 1, 1, 'full'),
    scatter('1-component galaxies', oneSfr, 1, 1, 'one'),
    scatter('Multi-component galaxies', multiSfr, 1, 1, 'multi'),
    scatter('Full sample', fullSig, 2, 2, 'full'),
    scatter('1-component galaxies', oneSig, 2, 2, 'one'),
    scatter('Multi-component galaxies', multiSig, 2, 2, 'multi'),
    // side histograms
    fillBars(sfrEdges, oneSfrHist, 3, 3, true),
    stepLine(sfrEdges, fullSfrHist, 3, 3, true, GREYL, 1.3),
    stepLine(sfrEdges, multiSfrHist, 3, 3, true, BLUE, 1.5),
    fillBars(sigEdges, oneSigHist, 4, 4, true),
    stepLine(sigEdges, fullSigHist, 4, 4, true, GREYL, 1.3),
    stepLine(sigEdges, multiSigHist, 4, 4, true, BLUE, 1.5)
  ]
};

const chart = echarts.init(document.getElementById('c'), null, {renderer: 'canvas', width: 633, height: 785});
chart.setOption(option);
</script>
</body></html>
